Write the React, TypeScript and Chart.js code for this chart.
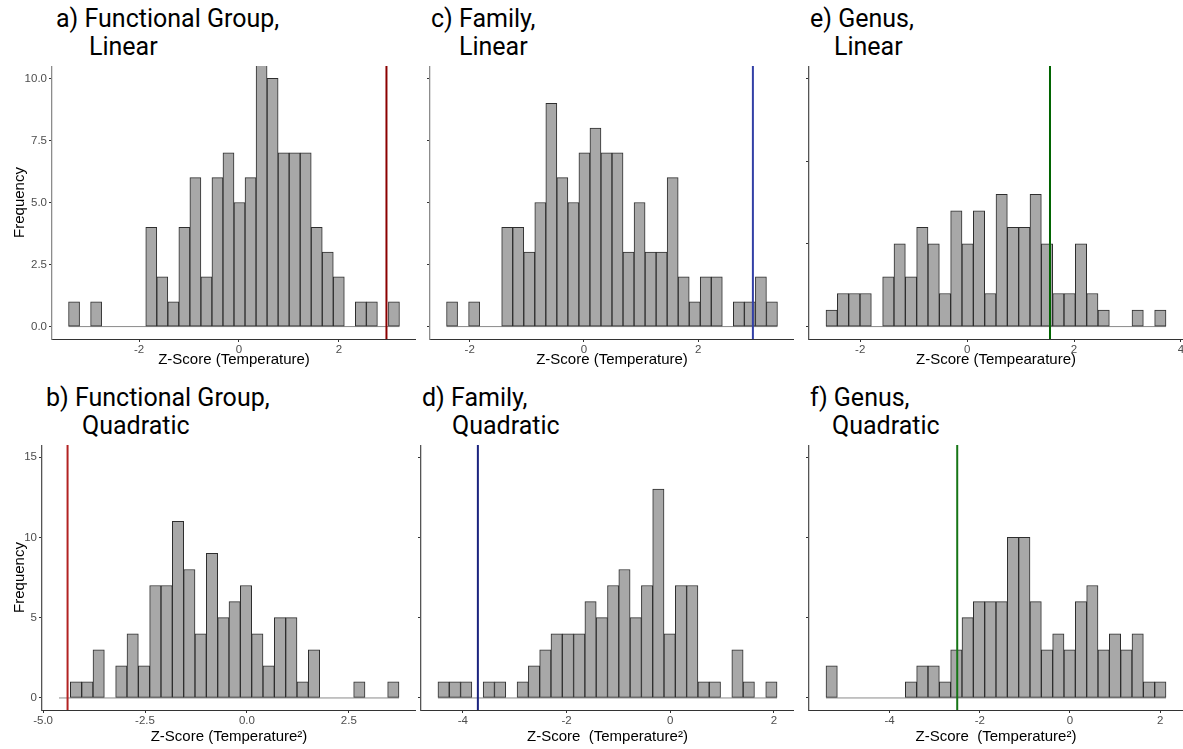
import React, { useEffect, useRef } from 'react';
import { Chart, registerables } from 'chart.js';

Chart.register(...registerables);

const FONT = "'Liberation Sans', Arial, Helvetica, sans-serif";
const TITLE_FONT = "Roboto, 'Noto Sans', sans-serif";

// ---------- data (30 bins each) ----------
// a) Functional Group, Linear
const aCounts = [1, 0, 1, 0, 0, 0, 0, 4, 2, 1, 4, 6, 2, 6, 7, 5, 6, 11, 10, 7, 7, 7, 4, 3, 2, 0, 1, 1, 0, 1];
const aRange = [-3.41, 3.21];
const aLine = 2.95;
// c) Family, Linear
const cCounts = [1, 0, 1, 0, 0, 4, 4, 3, 5, 9, 6, 5, 7, 8, 7, 7, 3, 5, 3, 3, 6, 2, 1, 2, 2, 0, 1, 1, 2, 1];
const cRange = [-2.405, 3.39];
const cLine = 2.96;
// e) Genus, Linear
const eCounts = [1, 2, 2, 2, 0, 3, 5, 3, 6, 5, 2, 7, 5, 7, 2, 8, 6, 6, 8, 5, 2, 2, 5, 2, 1, 0, 0, 1, 0, 1];
const eRange = [-2.64, 3.72];
const eLine = 1.55;
// b) Functional Group, Quadratic
const bCounts = [0, 1, 1, 3, 0, 2, 4, 2, 7, 7, 11, 8, 4, 9, 5, 6, 7, 4, 2, 5, 5, 1, 3, 0, 0, 0, 1, 0, 0, 1];
const bRange = [-4.61, 3.73];
const bLine = -4.4;
// d) Family, Quadratic
const dCounts = [1, 1, 1, 0, 1, 1, 0, 1, 2, 3, 4, 4, 4, 6, 5, 7, 8, 5, 7, 13, 4, 7, 7, 1, 1, 0, 3, 1, 0, 1];
const dRange = [-4.48, 2.06];
const dLine = -3.71;
// f) Genus, Quadratic
const fCounts = [2, 0, 0, 0, 0, 0, 0, 1, 2, 2, 1, 3, 5, 6, 6, 6, 10, 10, 6, 3, 4, 3, 6, 7, 3, 4, 3, 4, 1, 1];
const fRange = [-5.41, 2.13];
const fLine = -2.5;

// ---------- ticks ----------
const xTicksAC = [-2, 0, 2];
const xTicksE = [-2, 0, 2, 4];
const xTicksB = [-5, -2.5, 0, 2.5];
const xTickLabelsB = ['-5.0', '-2.5', '0.0', '2.5'];
const xTicksDF = [-4, -2, 0, 2];
const yTicksTop = [0, 2.5, 5, 7.5, 10];
const yTickLabelsTop = ['0.0', '2.5', '5.0', '7.5', '10.0'];
const yRangeTop = [-0.5, 10.5];
const yTicks15 = [0, 5, 10, 15];
const yTickLabels15 = ['0', '5', '10', '15'];
const yRange15 = [-0.75, 15.75];

type Box = { left: number; top: number; width: number; height: number; yAxisW: number; xAxisH: number };
type Panel = {
  counts: number[]; range: number[]; vline: number; color: string;
  xTicks: number[]; xTickLabels: string[];
  yRange: number[]; yTicks: number[]; yTickLabels: string[] | null;
  xTitle: string; yTitle: string | null; yAxisColor: string;
  title1: string; title2: string; t1x: number; t2x: number; tTop: number;
  box: Box;
};

const fmt = (a: number[]) => a.map((v) => String(v));

const panels: Panel[] = [
  {
    counts: aCounts, range: aRange, vline: aLine, color: '#8B0000',
    xTicks: xTicksAC, xTickLabels: fmt(xTicksAC),
    yRange: yRangeTop, yTicks: yTicksTop, yTickLabels: yTickLabelsTop,
    xTitle: 'Z-Score (Temperature)', yTitle: 'Frequency', yAxisColor: '#8c8c8c',
    title1: 'a) Functional Group,', title2: 'Linear', t1x: 56, t2x: 89, tTop: 4.5,
    box: { left: 0, top: 66, width: 416, height: 306, yAxisW: 52, xAxisH: 33 },
  },
  {
    counts: cCounts, range: cRange, vline: cLine, color: '#3340A6',
    xTicks: xTicksAC, xTickLabels: fmt(xTicksAC),
    yRange: yRangeTop, yTicks: yTicksTop, yTickLabels: null,
    xTitle: 'Z-Score (Temperature)', yTitle: null, yAxisColor: '#8c8c8c',
    title1: 'c) Family,', title2: 'Linear', t1x: 431, t2x: 459, tTop: 4.5,
    box: { left: 420, top: 66, width: 374, height: 306, yAxisW: 10, xAxisH: 33 },
  },
  {
    counts: eCounts, range: eRange, vline: eLine, color: '#006400',
    xTicks: xTicksE, xTickLabels: fmt(xTicksE),
    yRange: yRange15, yTicks: yTicks15, yTickLabels: null,
    xTitle: 'Z-Score (Tempearature)', yTitle: null, yAxisColor: '#555555',
    title1: 'e) Genus,', title2: 'Linear', t1x: 810, t2x: 834, tTop: 4.5,
    box: { left: 798, top: 66, width: 385, height: 306, yAxisW: 11, xAxisH: 33 },
  },
  {
    counts: bCounts, range: bRange, vline: bLine, color: '#B22222',
    xTicks: xTicksB, xTickLabels: xTickLabelsB,
    yRange: yRange15, yTicks: yTicks15, yTickLabels: yTickLabels15,
    xTitle: 'Z-Score (Temperature\u00B2)', yTitle: 'Frequency', yAxisColor: '#555555',
    title1: 'b) Functional Group,', title2: 'Quadratic', t1x: 46, t2x: 82, tTop: 383.5,
    box: { left: 0, top: 445, width: 416, height: 304, yAxisW: 42, xAxisH: 39 },
  },
  {
    counts: dCounts, range: dRange, vline: dLine, color: '#1A237E',
    xTicks: xTicksDF, xTickLabels: fmt(xTicksDF),
    yRange: yRange15, yTicks: yTicks15, yTickLabels: null,
    xTitle: 'Z-Score  (Temperature\u00B2)', yTitle: null, yAxisColor: '#555555',
    title1: 'd) Family,', title2: 'Quadratic', t1x: 422, t2x: 452, tTop: 383.5,
    box: { left: 417, top: 445, width: 377, height: 304, yAxisW: 4, xAxisH: 39 },
  },
  {
    counts: fCounts, range: fRange, vline: fLine, color: '#167516',
    xTicks: xTicksDF, xTickLabels: fmt(xTicksDF),
    yRange: yRange15, yTicks: yTicks15, yTickLabels: null,
    xTitle: 'Z-Score  (Temperature\u00B2)', yTitle: null, yAxisColor: '#555555',
    title1: 'f) Genus,', title2: 'Quadratic', t1x: 810, t2x: 832, tTop: 383.5,
    box: { left: 798, top: 445, width: 385, height: 304, yAxisW: 11, xAxisH: 39 },
  },
];

function Histogram({ p }: { p: Panel }) {
  const ref = useRef<HTMLCanvasElement>(null);
  useEffect(() => {
    if (!ref.current) return;
    const [lo, hi] = p.range;
    const n = p.counts.length;
    const w = (hi - lo) / n;
    const pad = 0.05 * (hi - lo);
    const bars = p.counts.map((c, i) => ({ x: lo + (i + 0.5) * w, y: c }));
    const chart = new Chart(ref.current, {
      type: 'bar',
      data: {
        datasets: [
          {
            type: 'line',
            data: [{ x: p.vline, y: p.yRange[0] }, { x: p.vline, y: p.yRange[1] }],
            borderColor: p.color, borderWidth: 2, pointRadius: 0, order: 0,
          } as any,
          {
            type: 'bar',
            data: bars,
            backgroundColor: '#A8A8A8',
            borderColor: '#2e2e2e',
            borderWidth: 1,
            borderSkipped: false,
            barPercentage: 1,
            categoryPercentage: 1,
            order: 1,
          } as any,
          {
            type: 'line',
            data: [{ x: lo, y: 0 }, { x: hi, y: 0 }],
            borderColor: '#8a8a8a', borderWidth: 1, pointRadius: 0, order: 2,
          } as any,
        ],
      },
      options: {
        animation: false,
        responsive: false,
        maintainAspectRatio: false,
        devicePixelRatio: 1,
        layout: { padding: 0 },
        plugins: { legend: { display: false }, tooltip: { enabled: false }, title: { display: false } },
        scales: {
          x: {
            type: 'linear',
            offset: false,
            min: lo - pad,
            max: hi + pad,
            afterBuildTicks: (s: any) => { s.ticks = p.xTicks.map((v) => ({ value: v })); },
            afterFit: (s: any) => { s.height = p.box.xAxisH; s.paddingLeft = 0; s.paddingRight = 0; },
            grid: { display: true, drawOnChartArea: false, drawTicks: true, tickLength: 3, color: '#333333', offset: false },
            border: { display: true, color: '#333333', width: 1 },
            ticks: {
              autoSkip: false, maxRotation: 0, minRotation: 0, padding: 1, color: '#4D4D4D',
              font: { family: FONT, size: 11.5 },
              callback: (_v: any, i: number) => p.xTickLabels[i],
            },
            title: { display: true, text: p.xTitle, color: '#000000', font: { family: FONT, size: 15 }, padding: { top: 0, bottom: 3 } },
          },
          y: {
            type: 'linear',
            min: p.yRange[0],
            max: p.yRange[1],
            afterBuildTicks: (s: any) => { s.ticks = p.yTicks.map((v) => ({ value: v })); },
            afterFit: (s: any) => { s.width = p.box.yAxisW; s.paddingTop = 0; s.paddingBottom = 0; },
            grid: { display: true, drawOnChartArea: false, drawTicks: true, tickLength: 3, color: '#333333' },
            border: { display: true, color: p.yAxisColor, width: 1.3 },
            ticks: {
              display: !!p.yTickLabels, padding: 2, color: '#4D4D4D',
              font: { family: FONT, size: 11.5 },
              callback: (_v: any, i: number) => (p.yTickLabels ? p.yTickLabels[i] : ''),
            },
            title: {
              display: !!p.yTitle, text: p.yTitle || '', color: '#000000',
              font: { family: FONT, size: 15 }, padding: { top: 11, bottom: 0 },
            },
          },
        },
      } as any,
    });
    return () => chart.destroy();
  }, [p]);
  const b = p.box;
  return (
    <canvas
      ref={ref}
      width={b.width}
      height={b.height}
      style={{ position: 'absolute', left: b.left, top: b.top, width: b.width, height: b.height }}
    />
  );
}

function Title({ p }: { p: Panel }) {
  const st: React.CSSProperties = {
    position: 'absolute', fontFamily: TITLE_FONT, fontSize: 25, lineHeight: '28px',
    color: '#000', whiteSpace: 'pre',
  };
  return (
    <>
      <div style={{ ...st, left: p.t1x, top: p.tTop }}>{p.title1}</div>
      <div style={{ ...st, left: p.t2x, top: p.tTop + 28 }}>{p.title2}</div>
    </>
  );
}

export default function App() {
  return (
    <div style={{ position: 'fixed', left: 0, top: 0, width: 1183, height: 749, overflow: 'hidden', background: '#fff' }}>
      {panels.map((p, i) => (
        <React.Fragment key={i}>
          <Histogram p={p} />
          <Title p={p} />
        </React.Fragment>
      ))}
    </div>
  );
}
